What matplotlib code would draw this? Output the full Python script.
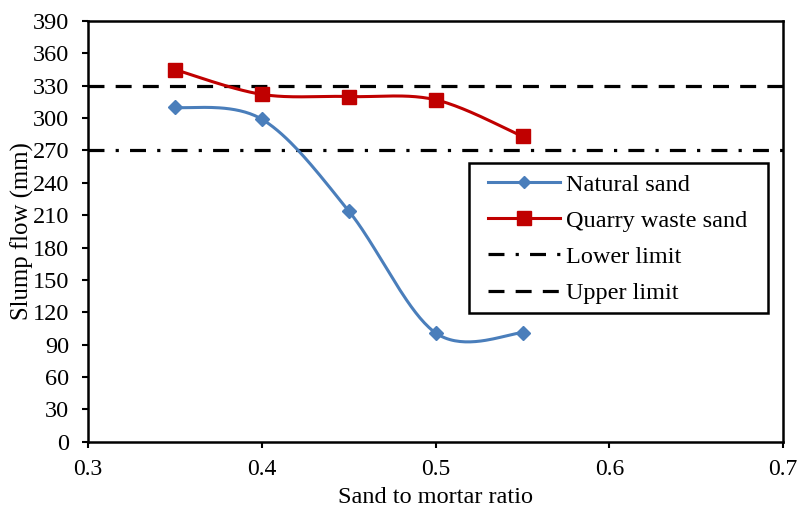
import numpy as np
import matplotlib
matplotlib.use("Agg")
import matplotlib.pyplot as plt
from matplotlib.patches import Rectangle

plt.rcParams['font.family'] = 'serif'
plt.rcParams['font.serif'] = ['Liberation Serif', 'Times New Roman', 'DejaVu Serif']

ratio = [0.35, 0.40, 0.45, 0.50, 0.55]
natural_sand = [310, 299, 214, 101, 101]
quarry_sand = [345, 322, 320, 317, 283]
lower_limit = 270
upper_limit = 330
x_ticks = [0.3, 0.4, 0.5, 0.6, 0.7]
y_ticks = list(range(0, 391, 30))


def smooth_curve(x, y, n=40):
    """Cubic Bezier smoothing through every point (spreadsheet-style)."""
    x = np.asarray(x, float)
    y = np.asarray(y, float)
    # scale y so tangents are computed in comparable units
    sx = 1.0 / (x.max() - x.min())
    sy = 1.0 / 390.0
    px, py = x * sx, y * sy
    k = len(px)
    ox, oy = [], []
    for i in range(k - 1):
        p0 = (px[max(i - 1, 0)], py[max(i - 1, 0)])
        p1 = (px[i], py[i])
        p2 = (px[i + 1], py[i + 1])
        p3 = (px[min(i + 2, k - 1)], py[min(i + 2, k - 1)])
        c1 = (p1[0] + (p2[0] - p0[0]) / 6, p1[1] + (p2[1] - p0[1]) / 6)
        c2 = (p2[0] - (p3[0] - p1[0]) / 6, p2[1] - (p3[1] - p1[1]) / 6)
        t = np.linspace(0, 1, n)
        bx = ((1 - t) ** 3 * p1[0] + 3 * (1 - t) ** 2 * t * c1[0]
              + 3 * (1 - t) * t ** 2 * c2[0] + t ** 3 * p2[0])
        by = ((1 - t) ** 3 * p1[1] + 3 * (1 - t) ** 2 * t * c1[1]
              + 3 * (1 - t) * t ** 2 * c2[1] + t ** 3 * p2[1])
        ox.extend(bx)
        oy.extend(by)
    return np.array(ox) / sx, np.array(oy) / sy


fig = plt.figure(figsize=(8, 5.12), dpi=100)
ax = fig.add_axes([0.11, 0.137, 0.869, 0.822])

blue = '#4A7EBB'
red = '#C00000'

sx, sy = smooth_curve(ratio, natural_sand)
ax.plot(sx, sy, color=blue, lw=2.2, zorder=3)
ax.plot(ratio, natural_sand, linestyle='none', marker='D', ms=7.5,
        color=blue, zorder=4)

qx, qy = smooth_curve(ratio, quarry_sand)
ax.plot(qx, qy, color=red, lw=2.2, zorder=3)
ax.plot(ratio, quarry_sand, linestyle='none', marker='s', ms=9.5,
        color=red, zorder=4)

ax.axhline(lower_limit, color='black', lw=2.3, dashes=(5, 3.5, 1, 3.5), zorder=2)
ax.axhline(upper_limit, color='black', lw=2.3, dashes=(5, 3.5), zorder=2)

# legend box drawn separately so the inner padding can be wider at the sides
ax.add_patch(Rectangle((0.548, 0.306), 0.430, 0.356, transform=ax.transAxes,
                       facecolor='white', edgecolor='black', lw=1.8, zorder=5))

# legend proxies
h1, = ax.plot([], [], color=blue, lw=2.2, marker='D', ms=6)
h2, = ax.plot([], [], color=red, lw=2.2, marker='s', ms=9.5)
h3, = ax.plot([], [], color='black', lw=2.3, dashes=(5, 3.5, 1, 3.5))
h4, = ax.plot([], [], color='black', lw=2.3, dashes=(5, 3.5))
leg = ax.legend([h1, h2, h3, h4],
                ['Natural sand', 'Quarry waste sand', 'Lower limit', 'Upper limit'],
                loc='upper left', bbox_to_anchor=(0.560, 0.663),
                borderaxespad=0, fontsize=17.5, frameon=False,
                handlelength=2.95, handletextpad=0.25,
                labelspacing=0.58, borderpad=0.45)
leg.set_zorder(6)

ax.set_xlim(0.3, 0.7)
ax.set_ylim(0, 390)
ax.set_xticks(x_ticks)
ax.set_xticklabels([f'{v:g}' for v in x_ticks])
ax.set_yticks(y_ticks)
ax.tick_params(direction='out', length=4.5, width=1.5, labelsize=17)
ax.tick_params(axis='x', pad=8)
ax.tick_params(axis='y', labelsize=17.5, pad=9)
for s in ax.spines.values():
    s.set_linewidth(1.8)

ax.set_xlabel('Sand to mortar ratio', fontsize=17.5, labelpad=5)
ax.set_ylabel('Slump flow (mm)', fontsize=17.8)
ax.yaxis.set_label_coords(-0.077, 0.5)

fig.savefig('out.png', dpi=100)
